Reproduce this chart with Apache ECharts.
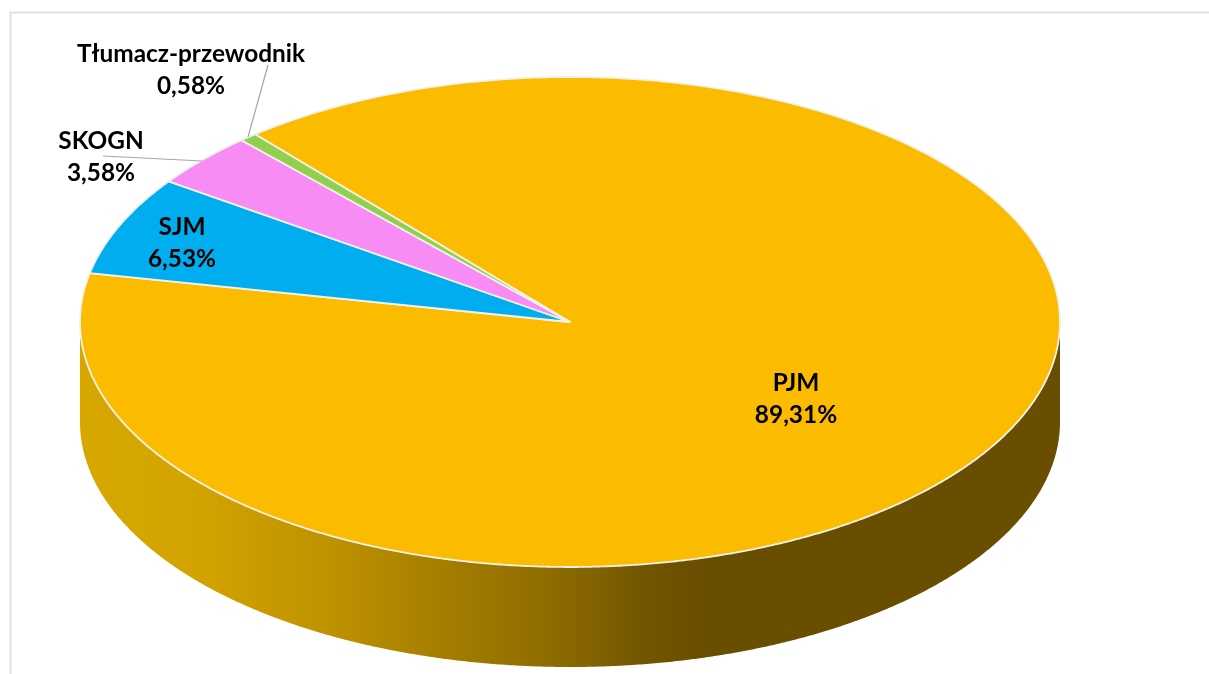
<!DOCTYPE html>
<html>
<head>
<meta charset="utf-8">
<style>html,body{margin:0;padding:0;background:#fff}#c{width:1209px;height:674px}</style>
<script src="https://cdn.jsdelivr.net/npm/echarts@6/dist/echarts.min.js"></script>
</head>
<body>
<div id="c"></div>
<script>
const categories = ['PJM', 'SJM', 'SKOGN', 'Tłumacz-przewodnik'];
const shares = [89.31, 6.53, 3.58, 0.58];
const sliceColors = ['#fbbc00', '#00aeef', '#f78cf5', '#92cf4f'];

// Layout only (no data)
const CX = 570, CY = 322, RX = 490, RY = 245, DEPTH = 100, START = 230;
const labelAt = { 'PJM': [796, 399], 'SJM': [182, 243], 'SKOGN': [101, 157], 'Tłumacz-przewodnik': [191, 70] };
const leaderAt = { 'SKOGN': [[103, 156], [202, 161]], 'Tłumacz-przewodnik': [[268, 65], [248, 137]] };

const total = shares.reduce((a, b) => a + b, 0);
function sliceRange(i) {
  let before = 0;
  for (let k = 0; k < i; k++) before += shares[k];
  return [START + before / total * 360, START + (before + shares[i]) / total * 360];
}
function pt(deg, dy) {
  const t = deg * Math.PI / 180;
  return [CX + RX * Math.cos(t), CY + RY * Math.sin(t) + (dy || 0)];
}
function arc(a, b, dy) {
  const n = Math.max(2, Math.ceil(Math.abs(b - a) * 3)), out = [];
  for (let i = 0; i <= n; i++) out.push(pt(a + (b - a) * i / n, dy));
  return out;
}
const sideGradient = {
  type: 'linear', x: 80, y: 0, x2: 1059, y2: 0, global: true,
  colorStops: [
    { offset: 0, color: '#d8a800' },
    { offset: 0.13, color: '#d2a200' },
    { offset: 0.25, color: '#bf9200' },
    { offset: 0.39, color: '#a17b00' },
    { offset: 0.49, color: '#8c6a00' },
    { offset: 0.577, color: '#725500' },
    { offset: 0.64, color: '#6a4e00' },
    { offset: 1, color: '#6a4e00' }
  ]
};

function renderSide(params) {
  const [a, b] = sliceRange(params.dataIndex);
  const children = [];
  [[0, 180], [360, 540]].forEach(([f0, f1]) => {
    const s = Math.max(a, f0), e = Math.min(b, f1);
    if (e > s) {
      children.push({
        type: 'polygon',
        shape: { points: arc(s, e, 0).concat(arc(e, s, DEPTH)) },
        style: { fill: sideGradient, stroke: null }
      });
    }
  });
  return { type: 'group', children };
}

function renderTop(params, api) {
  const i = params.dataIndex;
  const [a, b] = sliceRange(i);
  const name = categories[i];
  const children = [{
    type: 'polygon',
    shape: { points: [[CX, CY]].concat(arc(a, b, 0)) },
    style: { fill: sliceColors[i], stroke: '#f0f1ea', lineWidth: 1.8, lineJoin: 'round' }
  }];
  if (leaderAt[name]) {
    children.push({
      type: 'polyline',
      shape: { points: leaderAt[name] },
      style: { fill: null, stroke: '#a6a6a6', lineWidth: 1.2 }
    });
  }
  const text = name + '\n' + api.value(0).toFixed(2).replace('.', ',') + '%';
  children.push({
    type: 'text',
    z2: 10,
    style: {
      text, x: labelAt[name][0], y: labelAt[name][1],
      align: 'center', verticalAlign: 'middle',
      fontFamily: 'Lato', fontWeight: 'bold', fontSize: 24.4, lineHeight: 32,
      fill: '#000'
    }
  });
  return { type: 'group', children };
}

const seriesData = categories.map((n, i) => ({ name: n, value: [shares[i]] }));
const chart = echarts.init(document.getElementById('c'), null, { renderer: 'canvas' });
chart.setOption({
  animation: false,
  backgroundColor: '#ffffff',
  graphic: [{
    type: 'polyline',
    z: 0,
    shape: { points: [[10.5, 674], [10.5, 12.5], [1209, 12.5]] },
    style: { fill: null, stroke: '#e2e2e2', lineWidth: 2 }
  }],
  series: [
    { type: 'custom', coordinateSystem: 'none', z: 1, silent: true, renderItem: renderSide, data: seriesData },
    { type: 'custom', coordinateSystem: 'none', z: 2, silent: true, renderItem: renderTop, data: seriesData }
  ]
});
</script>
</body>
</html>
